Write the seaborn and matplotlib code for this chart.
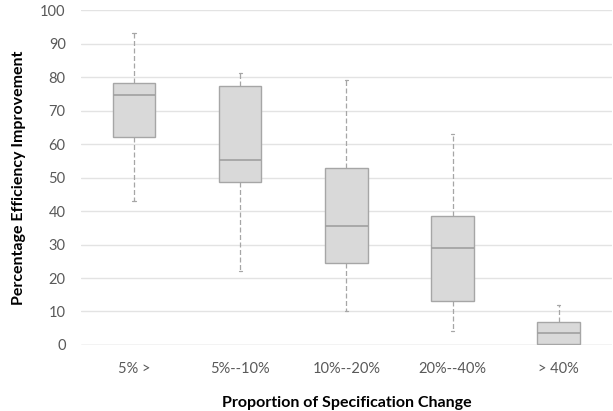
import numpy as np
import pandas as pd
import seaborn as sns
import matplotlib.pyplot as plt

# five-number summaries (min, Q1, median, Q3, max)
categories = ["5% >", "5%--10%", "10%--20%", "20%--40%", "> 40%"]
lower_whisker = [43.0, 22.0, 10.1, 4.1, 0.0]
q1_values = [62.2, 48.6, 24.6, 13.2, 0.2]
medians = [74.7, 55.1, 35.6, 29.0, 3.6]
q3_values = [78.1, 77.3, 52.8, 38.5, 6.8]
upper_whisker = [93.1, 81.1, 79.2, 63.1, 12.0]

rows = []
for i, cat in enumerate(categories):
    for v in [lower_whisker[i], q1_values[i], medians[i], q3_values[i], upper_whisker[i]]:
        rows.append({"group": cat, "value": v})
df = pd.DataFrame(rows)

sns.set_style("white")
plt.rcParams["font.family"] = ["Lato", "DejaVu Sans"]

fig = plt.figure(figsize=(6.13, 4.11), dpi=100)
ax = fig.add_axes([0.132, 0.1606, 0.866, 0.815])

edge = "#a6a6a6"
sns.boxplot(data=df, x="group", y="value", order=categories, whis=(0, 100),
            width=0.4, color="#d9d9d9", linewidth=1.0, showfliers=False,
            boxprops=dict(facecolor="#d9d9d9", edgecolor=edge),
            medianprops=dict(color="#a0a0a0", linewidth=1.2),
            whiskerprops=dict(color="#a6a6a6", linestyle=(0, (4, 2)), linewidth=0.9),
            capprops=dict(color="#a6a6a6", linewidth=0.9),
            capwidths=0.03, ax=ax)

ax.set_ylim(0, 100)
ax.set_xlim(-0.5, 4.5)
ax.set_yticks(range(0, 101, 10))
ax.yaxis.grid(True, color="#e3e3e3", linewidth=1.0)
ax.set_axisbelow(True)
for s in ax.spines.values():
    s.set_visible(False)
ax.axhline(0, color="#d9d9d9", linewidth=1.0, zorder=0)

ax.tick_params(axis="both", length=0, labelsize=10.5, labelcolor="#595959")
ax.tick_params(axis="y", pad=11)
ax.tick_params(axis="x", pad=12)
ax.set_xlabel("Proportion of Specification Change", fontsize=11.5,
              fontweight="bold", labelpad=15, color="black")
ax.set_ylabel("Percentage Efficiency Improvement", fontsize=11.5,
              fontweight="bold", labelpad=10, color="black")

plt.savefig("out.png", dpi=100)
